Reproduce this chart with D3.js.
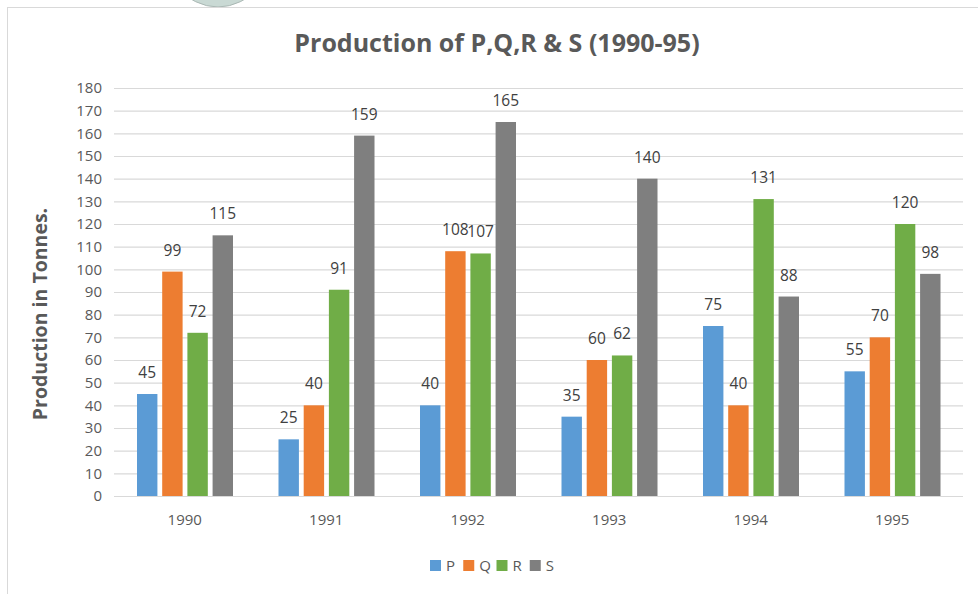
<!DOCTYPE html>
<html>
<head>
<meta charset="utf-8">
<script src="https://cdn.jsdelivr.net/npm/d3@7"></script>
<style>
  body { margin: 0; background: #fff; }
  svg { display: block; font-family: "Open Sans", "Liberation Sans", sans-serif; }
</style>
</head>
<body>
<div id="chart"></div>
<script>
// chart data
const years = ["1990", "1991", "1992", "1993", "1994", "1995"];
const series = ["P", "Q", "R", "S"];
const P = [45, 25, 40, 35, 75, 55];
const Q = [99, 40, 108, 60, 40, 70];
const R = [72, 91, 107, 62, 131, 120];
const S = [115, 159, 165, 140, 88, 98];
const yTicks = [0, 10, 20, 30, 40, 50, 60, 70, 80, 90, 100, 110, 120, 130, 140, 150, 160, 170, 180];

const values = { P: P, Q: Q, R: R, S: S };
const colors = { P: "#5b9bd5", Q: "#ed7d31", R: "#70ad47", S: "#7f7f7f" };

const width = 978, height = 594;
const plotLeft = 114, plotRight = 963, plotTop = 88, plotBottom = 496;

const svg = d3.select("#chart").append("svg")
    .attr("width", width)
    .attr("height", height);

// faint round thing peeking above the frame
svg.append("ellipse")
    .attr("cx", 218).attr("cy", -62)
    .attr("rx", 58).attr("ry", 69)
    .attr("fill", "#c9d9d4")
    .attr("stroke", "#aab8b4");

// chart frame
svg.append("rect")
    .attr("x", 7.5).attr("y", 7.5)
    .attr("width", 990).attr("height", 600)
    .attr("fill", "#fff")
    .attr("stroke", "#d9d9d9");

const x = d3.scaleBand().domain(years).range([plotLeft, plotRight]);
const xi = d3.scaleBand().domain(series).range([23, 119]).paddingInner(0.19);
const y = d3.scaleLinear().domain([0, 180]).range([plotBottom, plotTop]);

// gridlines
svg.append("g")
  .selectAll("line")
  .data(yTicks)
  .join("line")
    .attr("x1", plotLeft).attr("x2", plotRight)
    .attr("y1", d => y(d) + 0.5).attr("y2", d => y(d) + 0.5)
    .attr("stroke", "#d9d9d9")
    .attr("stroke-width", 1.2);

// y axis labels
const yAxis = svg.append("g")
    .attr("transform", `translate(${plotLeft},0)`)
    .call(d3.axisLeft(y).tickValues(yTicks).tickSize(0).tickPadding(12));
yAxis.select(".domain").remove();
yAxis.selectAll("text")
    .attr("font-size", 15)
    .attr("fill", "#595959")
    .style("font-family", "'Open Sans', sans-serif");

// x axis labels
const xAxis = svg.append("g")
    .attr("transform", `translate(0,${plotBottom})`)
    .call(d3.axisBottom(x).tickSize(0).tickPadding(18));
xAxis.select(".domain").remove();
xAxis.selectAll("text")
    .attr("font-size", 15)
    .attr("fill", "#595959")
    .style("font-family", "'Open Sans', sans-serif");

// bars
const groups = svg.append("g")
  .selectAll("g")
  .data(years)
  .join("g")
    .attr("transform", d => `translate(${x(d)},0)`);

groups.selectAll("rect")
  .data((yr, i) => series.map(s => ({ s: s, v: values[s][i] })))
  .join("rect")
    .attr("x", d => xi(d.s))
    .attr("width", xi.bandwidth())
    .attr("y", d => y(d.v))
    .attr("height", d => y(0) - y(d.v))
    .attr("fill", d => colors[d.s]);

// value labels
groups.selectAll("text")
  .data((yr, i) => series.map(s => ({ s: s, v: values[s][i] })))
  .join("text")
    .attr("x", d => xi(d.s) + xi.bandwidth() / 2)
    .attr("y", d => y(d.v) - 16)
    .attr("text-anchor", "middle")
    .attr("font-size", 15.5)
    .attr("fill", "#404040")
    .text(d => d.v);

// title
svg.append("text")
    .attr("x", 497).attr("y", 52)
    .attr("text-anchor", "middle")
    .attr("font-size", 25)
    .attr("font-weight", "bold")
    .attr("fill", "#595959")
    .text("Production of P,Q,R & S (1990-95)");

// y title
svg.append("text")
    .attr("transform", "translate(47,314) rotate(-90)")
    .attr("text-anchor", "middle")
    .attr("font-size", 19.5)
    .attr("font-weight", "bold")
    .attr("fill", "#595959")
    .text("Production in Tonnes.");

// legend
const legend = svg.append("g")
    .attr("transform", "translate(430,560)");
const lx = d3.scaleBand().domain(series).range([0, 133]);
const item = legend.selectAll("g")
  .data(series)
  .join("g")
    .attr("transform", d => `translate(${lx(d)},0)`);
item.append("rect")
    .attr("width", 11).attr("height", 11)
    .attr("fill", d => colors[d]);
item.append("text")
    .attr("x", 16).attr("y", 11)
    .attr("font-size", 15)
    .attr("fill", "#595959")
    .text(d => d);
</script>
</body>
</html>
